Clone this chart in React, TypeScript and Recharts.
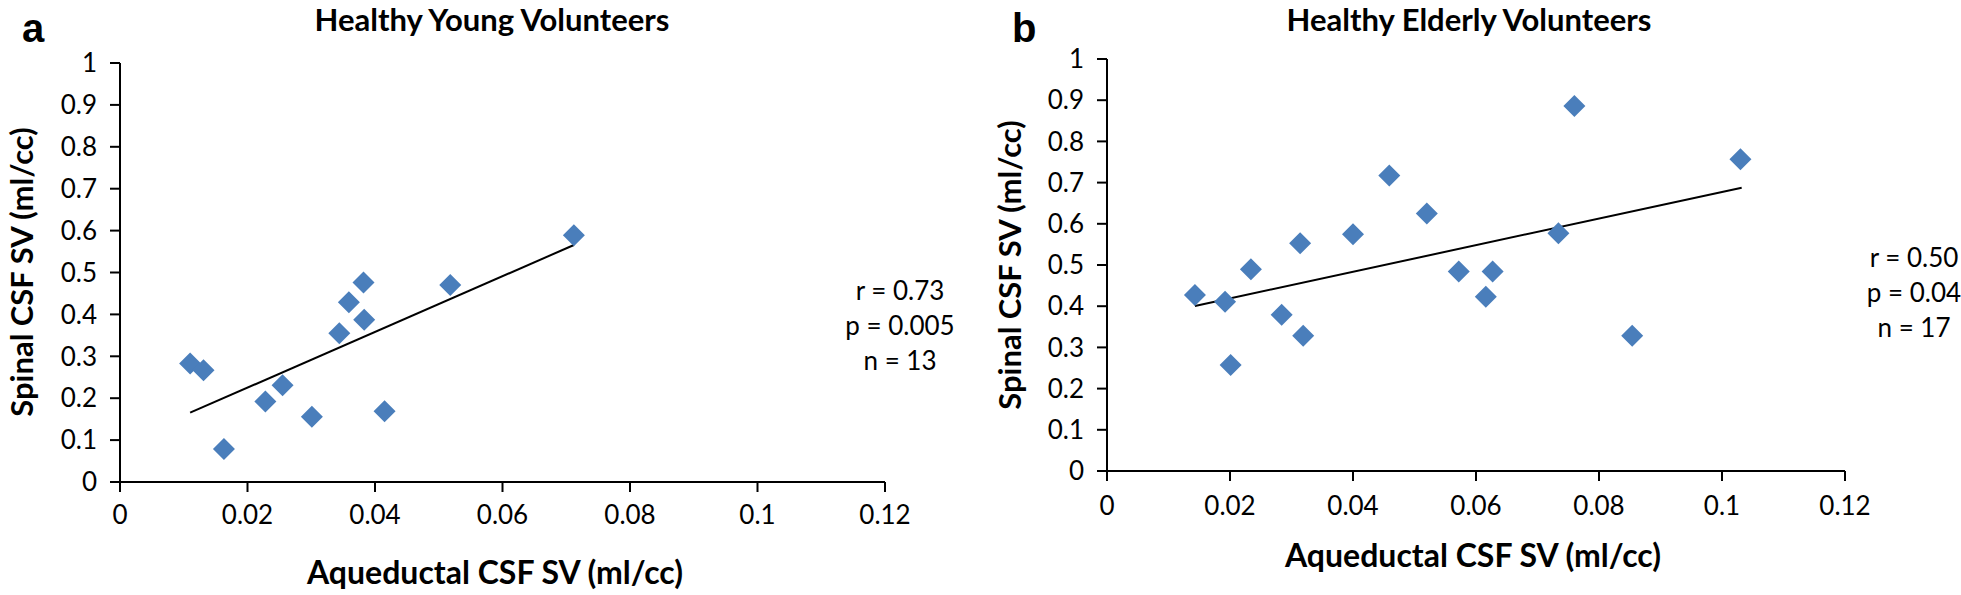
import React from "react";
import { ScatterChart, Scatter, XAxis, YAxis } from "recharts";

// ---- data ----
const xTicks = [0, 0.02, 0.04, 0.06, 0.08, 0.1, 0.12];
const yTicks = [0, 0.1, 0.2, 0.3, 0.4, 0.5, 0.6, 0.7, 0.8, 0.9, 1];

// a: healthy young volunteers
const youngAqueductal = [0.011, 0.0131, 0.0163, 0.0228, 0.0255, 0.0301, 0.0344, 0.0359, 0.0382, 0.0383, 0.0415, 0.0518, 0.0712];
const youngSpinal = [0.283, 0.267, 0.079, 0.192, 0.231, 0.156, 0.355, 0.429, 0.476, 0.387, 0.169, 0.47, 0.589];
const youngTrendX = [0.011, 0.0712];
const youngTrendY = [0.1654, 0.5656];
const youngStats = ["r = 0.73", "p = 0.005", "n = 13"];

// b: healthy elderly volunteers
const elderlyAqueductal = [0.0143, 0.0192, 0.0201, 0.0234, 0.0284, 0.0314, 0.0319, 0.04, 0.0459, 0.052, 0.0572, 0.0616, 0.0627, 0.0734, 0.076, 0.0854, 0.103];
const elderlySpinal = [0.427, 0.411, 0.257, 0.4895, 0.379, 0.553, 0.328, 0.5745, 0.717, 0.625, 0.484, 0.423, 0.484, 0.577, 0.886, 0.328, 0.7565];
const elderlyTrendX = [0.0143, 0.1032];
const elderlyTrendY = [0.4005, 0.6877];
const elderlyStats = ["r = 0.50", "p = 0.04", "n = 17"];

const FONT = "Lato, 'Noto Sans', sans-serif";
const BLUE = "#4A7EBB";

const toPoints = (xs: number[], ys: number[]) => xs.map((x, i) => ({ x, y: ys[i] }));

function Diamond(props: any) {
  const { cx, cy } = props;
  if (cx == null || cy == null) return <g />;
  const r = 11;
  return (
    <polygon
      points={`${cx},${cy - r} ${cx + r},${cy} ${cx},${cy + r} ${cx - r},${cy}`}
      fill={BLUE}
    />
  );
}

const tickStyle = { fill: "#000", fontSize: 26, fontFamily: FONT };
const axisLine = { stroke: "#000", strokeWidth: 2 };

function Panel({
  width,
  height,
  margin,
  yAxisWidth,
  xAxisHeight,
  xTickMargin,
  points,
  trend,
}: any) {
  return (
    <ScatterChart width={width} height={height} margin={margin}>
      <XAxis
        type="number"
        dataKey="x"
        domain={[0, 0.12]}
        ticks={xTicks}
        interval={0}
        height={xAxisHeight}
        tick={tickStyle}
        tickSize={10}
        tickMargin={xTickMargin}
        axisLine={axisLine}
        tickLine={axisLine}
        allowDataOverflow
      />
      <YAxis
        type="number"
        dataKey="y"
        domain={[0, 1]}
        ticks={yTicks}
        interval={0}
        width={yAxisWidth}
        tick={tickStyle}
        tickSize={10}
        tickMargin={13}
        axisLine={axisLine}
        tickLine={axisLine}
        allowDataOverflow
      />
      <Scatter
        data={trend}
        line={{ stroke: "#000", strokeWidth: 2 }}
        shape={() => <g />}
        isAnimationActive={false}
      />
      <Scatter data={points} shape={<Diamond />} isAnimationActive={false} />
    </ScatterChart>
  );
}

const titleStyle: any = { fontFamily: FONT, fontWeight: 700, fontSize: 31, fill: "#000" };
const axisTitleStyle: any = { fontFamily: FONT, fontWeight: 700, fontSize: 32, fill: "#000" };
const yTitleStyle: any = { fontFamily: FONT, fontWeight: 700, fontSize: 31, fill: "#000" };
const statStyle: any = { fontFamily: FONT, fontSize: 26, fill: "#000" };
const letterStyle: any = { fontFamily: "'Liberation Sans', Arial, sans-serif", fontWeight: 700, fontSize: 40, fill: "#000" };

export default function App() {
  return (
    <div style={{ position: "absolute", left: 0, top: 0, width: 1961, height: 595, background: "#fff" }}>
      <div style={{ position: "absolute", left: 0, top: 0 }}>
        <Panel
          width={980}
          height={595}
          margin={{ top: 63, right: 95, bottom: 0, left: 0 }}
          yAxisWidth={120}
          xAxisHeight={113}
          xTickMargin={14}
          points={toPoints(youngAqueductal, youngSpinal)}
          trend={toPoints(youngTrendX, youngTrendY)}
        />
      </div>
      <div style={{ position: "absolute", left: 980, top: 0 }}>
        <Panel
          width={981}
          height={595}
          margin={{ top: 59, right: 116, bottom: 0, left: 0 }}
          yAxisWidth={127}
          xAxisHeight={124}
          xTickMargin={16}
          points={toPoints(elderlyAqueductal, elderlySpinal)}
          trend={toPoints(elderlyTrendX, elderlyTrendY)}
        />
      </div>
      <svg
        width={1961}
        height={595}
        style={{ position: "absolute", left: 0, top: 0, pointerEvents: "none" }}
      >
        {/* panel a */}
        <text x={22} y={42} style={letterStyle}>a</text>
        <text x={492} y={31} textAnchor="middle" style={titleStyle}>Healthy Young Volunteers</text>
        <text x={33} y={272} textAnchor="middle" transform="rotate(-90 33 272)" style={yTitleStyle}>
          Spinal CSF SV (ml/cc)
        </text>
        <text x={495} y={584} textAnchor="middle" style={axisTitleStyle}>Aqueductal CSF SV (ml/cc)</text>
        {youngStats.map((s, i) => (
          <text key={s} x={900} y={300 + i * 35} textAnchor="middle" style={statStyle}>{s}</text>
        ))}

        {/* panel b */}
        <text x={1012} y={42} style={letterStyle}>b</text>
        <text x={1469} y={31} textAnchor="middle" style={titleStyle}>Healthy Elderly Volunteers</text>
        <text x={1021} y={265} textAnchor="middle" transform="rotate(-90 1021 265)" style={yTitleStyle}>
          Spinal CSF SV (ml/cc)
        </text>
        <text x={1473} y={567} textAnchor="middle" style={axisTitleStyle}>Aqueductal CSF SV (ml/cc)</text>
        {elderlyStats.map((s, i) => (
          <text key={s} x={1914} y={267 + i * 35} textAnchor="middle" style={statStyle}>{s}</text>
        ))}
      </svg>
    </div>
  );
}
